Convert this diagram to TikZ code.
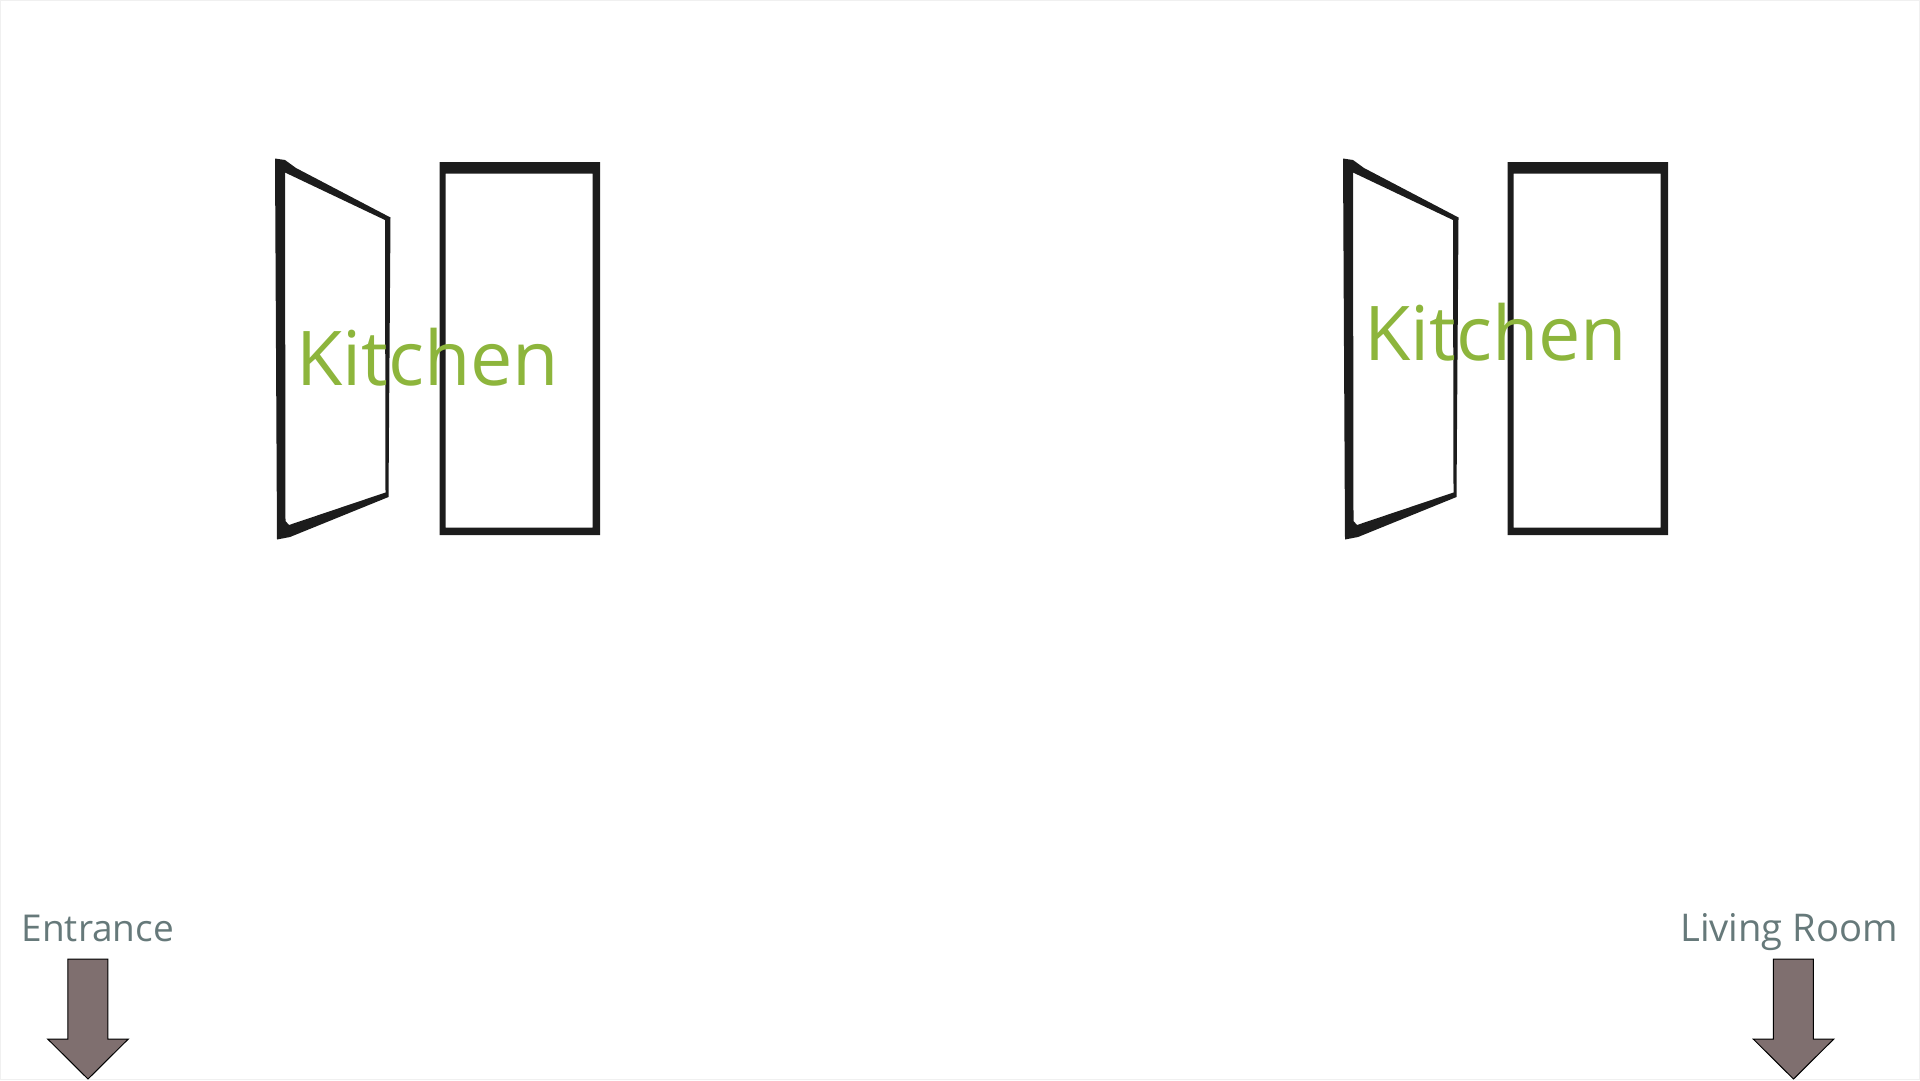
\documentclass[tikz,border=0pt]{standalone}
\usepackage{fontspec}
\setmainfont{Open Sans}
\definecolor{kitchengreen}{HTML}{8DB53C}
\definecolor{labelgrey}{HTML}{66797A}
\definecolor{arrowbrown}{HTML}{7F6F6F}
\definecolor{framedark}{HTML}{1C1C1C}
\tikzset{
    roomlabel/.style={anchor=base west, inner sep=0pt, text=kitchengreen, font=\fontsize{75.5}{75.5}\selectfont},
    signlabel/.style={anchor=base west, inner sep=0pt, text=labelgrey, font=\fontsize{37}{37}\selectfont},
    doorframe/.style={fill=framedark, even odd rule},
    downarrow/.style={fill=arrowbrown, draw=black, line width=1pt, line join=miter}
}
\begin{document}
\begin{tikzpicture}[x=1pt, y=-1pt]
    \useasboundingbox (0, 0) rectangle (1920, 1080);
    \draw[black!6, line width=1pt] (0.5, 0.5) rectangle (1919.5, 1079.5);

    % Doors
    \foreach \shift in {0, 1068} {
        \begin{scope}[xshift=\shift pt]
            \fill[doorframe] (275, 158.5) -- (285, 160) -- (296, 168) -- (390.5, 217.5) -- (388.5, 497) -- (290, 537) -- (277, 539.5) -- cycle
                (285, 172.5) -- (385, 220) -- (385.5, 492.5) -- (289, 525) -- (285.5, 521) -- cycle;
            \fill[doorframe] (439.5, 162) -- (600, 162) -- (600, 535) -- (439.5, 535) -- cycle
                (445.5, 173.5) -- (592.5, 173.5) -- (592.5, 527.5) -- (445.5, 527.5) -- cycle;
        \end{scope}
    }

    % Arrows
    \foreach \shift in {0, 1705.5} {
        \begin{scope}[xshift=\shift pt]
            \draw[downarrow] (67.8, 959) -- (107.8, 959) -- (107.8, 1039) -- (128.3, 1039) -- (88, 1079) -- (47.7, 1039) -- (67.8, 1039) -- cycle;
        \end{scope}
    }

    % Labels
    \node[roomlabel] (kitchenleft) at (296, 385) {Kitchen};
    \node[roomlabel] (kitchenright) at (1364, 360.7) {Kitchen};
    \node[signlabel] (entrance) at (21.5, 941.7) {Entrance};
    \node[signlabel, font=\fontsize{38.2}{38.2}\selectfont] (livingroom) at (1680, 941.7) {Living Room};
\end{tikzpicture}
\end{document}
